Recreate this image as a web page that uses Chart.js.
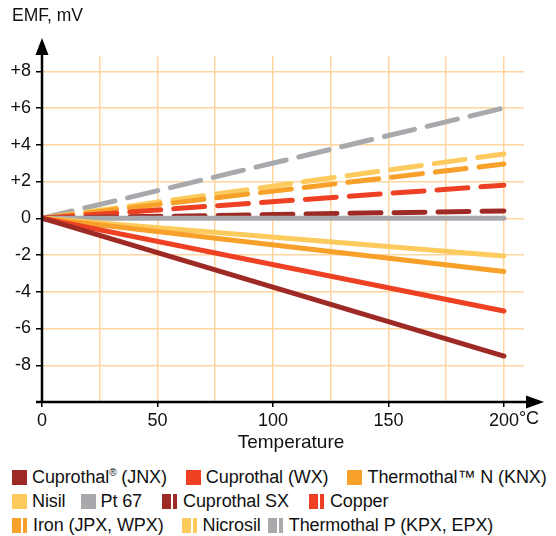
<!DOCTYPE html>
<html>
<head>
<meta charset="utf-8">
<script src="https://cdn.jsdelivr.net/npm/chart.js@4.4.0/dist/chart.umd.min.js"></script>
<style>
  body { margin: 0; background: #fff; font-family: "Liberation Sans", Arial, sans-serif; }
  #wrap { position: relative; width: 556px; height: 536px; }
  #legend { position: absolute; left: 12px; top: 465px; width: 544px; font-size: 18px; letter-spacing: -0.1px; color: #111; }
  .row { display: flex; height: 24px; align-items: center; }
  .item { display: flex; align-items: center; white-space: nowrap; }
  .mark { width: 15px; height: 15px; margin-right: 5px; flex: none; }
  .dash { width: 15px; margin-right: 6px; }
  sup { font-size: 10px; vertical-align: 7px; }
</style>
</head>
<body>
<div id="wrap">
  <canvas id="emfChart" width="556" height="460"></canvas>
  <div id="legend"></div>
</div>
<script>
// temperature range (x) and EMF end values (mV) for each wire
var temperatures = [0, 200];
var seriesNames = ['Cuprothal® (JNX)', 'Cuprothal (WX)', 'Thermothal™ N (KNX)', 'Nisil', 'Pt 67',
  'Cuprothal SX', 'Copper', 'Iron (JPX, WPX)', 'Nicrosil', 'Thermothal P (KPX, EPX)'];
var emfJNX = [0, -7.5];
var emfWX = [0, -5.05];
var emfKNX = [0, -2.9];
var emfNisil = [0, -2.05];
var emfPt67 = [0, 0];
var emfSX = [0, 0.4];
var emfCopper = [0, 1.8];
var emfIron = [0, 2.95];
var emfNicrosil = [0, 3.5];
var emfKPX = [0, 6.0];
var yTicks = [8, 6, 4, 2, 0, -2, -4, -6, -8, -10];
var xTicks = [0, 25, 50, 75, 100, 125, 150, 175, 200];
var xLabels = [0, 50, 100, 150, 200];

var series = [emfJNX, emfWX, emfKNX, emfNisil, emfPt67, emfSX, emfCopper, emfIron, emfNicrosil, emfKPX];
var colors = ['#9d2a24', '#ee4124', '#f7a02a', '#fdcb5d', '#a8a9ac',
  '#9d2a24', '#ee4124', '#f7a02a', '#fdcb5d', '#a8a9ac'];
var dashed = [false, false, false, false, false, true, true, true, true, true];
var rows = [[0, 1, 2], [3, 4, 5, 6], [7, 8, 9]];
var gapAfter = [19, 19, 0, 15, 20, 20, 0, 18, 7, 0];

document.addEventListener('DOMContentLoaded', function () {
  var ctx = document.getElementById('emfChart').getContext('2d');
  var font = '"Liberation Sans", Arial, sans-serif';

  var datasets = series.map(function (vals, i) {
    return {
      label: seriesNames[i],
      data: temperatures.map(function (t, j) { return { x: t, y: vals[j] }; }),
      borderColor: colors[i],
      borderWidth: 5,
      borderCapStyle: 'round',
      borderDash: dashed[i] ? [31, 13] : [],
      pointRadius: 0,
      tension: 0
    };
  });

  // axis lines with arrows, titles and the °C suffix
  var axesPlugin = {
    id: 'axes',
    afterDraw: function (chart) {
      var c = chart.ctx;
      var xs = chart.scales.x, ys = chart.scales.y;
      var x0 = xs.getPixelForValue(0);
      var yb = ys.getPixelForValue(-10);
      c.save();
      c.strokeStyle = '#000';
      c.fillStyle = '#000';
      c.lineWidth = 2.5;
      c.beginPath();
      c.moveTo(x0, yb + 1);
      c.lineTo(x0, 50);
      c.moveTo(36, yb);
      c.lineTo(530, yb);
      c.stroke();
      c.beginPath();
      c.moveTo(x0, 38);
      c.lineTo(x0 - 6.5, 55);
      c.lineTo(x0 + 6.5, 55);
      c.closePath();
      c.fill();
      c.beginPath();
      c.moveTo(544, yb);
      c.lineTo(526, yb - 6.5);
      c.lineTo(526, yb + 6.5);
      c.closePath();
      c.fill();

      c.fillStyle = '#111';
      c.textBaseline = 'middle';
      c.textAlign = 'left';
      c.font = '17.5px ' + font;
      c.fillText('EMF, mV', 12, 16);
      c.font = '18px ' + font;
      var x200 = xs.getPixelForValue(200);
      c.fillText('°C', x200 + c.measureText('200').width / 2, 419);
      c.font = '19px ' + font;
      c.textAlign = 'center';
      c.fillText('Temperature', 291, 443);
      c.restore();
    }
  };

  new Chart(ctx, {
    type: 'line',
    data: { datasets: datasets },
    options: {
      responsive: false,
      animation: false,
      layout: { padding: { top: 56, right: 32, left: 0, bottom: 0 } },
      plugins: { legend: { display: false }, tooltip: { enabled: false } },
      scales: {
        x: {
          type: 'linear',
          min: 0,
          max: 208.7,
          afterBuildTicks: function (scale) {
            scale.ticks = xTicks.map(function (v) { return { value: v }; });
          },
          afterFit: function (scale) { scale.height = 58; },
          ticks: {
            color: '#111',
            font: { family: font, size: 18 },
            padding: 3,
            maxRotation: 0,
            autoSkip: false,
            callback: function (v) { return xLabels.indexOf(v) >= 0 ? String(v) : ''; }
          },
          grid: {
            color: '#fed59f',
            lineWidth: 1.5,
            tickLength: 5,
            tickWidth: 1.5,
            tickColor: function (c) { return xLabels.indexOf(c.tick.value) >= 0 ? '#000' : 'rgba(0,0,0,0)'; }
          },
          border: { display: false }
        },
        y: {
          min: -10,
          max: 8.83,
          afterBuildTicks: function (scale) {
            scale.ticks = yTicks.map(function (v) { return { value: v }; });
          },
          afterFit: function (scale) { scale.width = 42; },
          ticks: {
            color: '#111',
            font: { family: font, size: 18 },
            padding: 5,
            callback: function (v) {
              if (v === -10) return '';
              return v > 0 ? '+' + v : String(v);
            }
          },
          grid: { color: '#fed59f', lineWidth: 1.5, tickLength: 6, tickColor: '#000', tickWidth: 1.5 },
          border: { display: false }
        }
      }
    },
    plugins: [axesPlugin]
  });

  // html legend with solid squares and split bars for dashed lines
  var legend = document.getElementById('legend');
  rows.forEach(function (row) {
    var r = document.createElement('div');
    r.className = 'row';
    row.forEach(function (i) {
      var item = document.createElement('span');
      item.className = 'item';
      item.style.marginRight = gapAfter[i] + 'px';
      var m = document.createElement('span');
      m.className = dashed[i] ? 'mark dash' : 'mark';
      m.style.background = dashed[i]
        ? 'linear-gradient(to right, ' + colors[i] + ' 0 9px, #fff 9px 11px, ' + colors[i] + ' 11px 15px)'
        : colors[i];
      var t = document.createElement('span');
      t.innerHTML = seriesNames[i].replace('®', '<sup>®</sup>');
      item.appendChild(m);
      item.appendChild(t);
      r.appendChild(item);
    });
    legend.appendChild(r);
  });
});
</script>
</body>
</html>
